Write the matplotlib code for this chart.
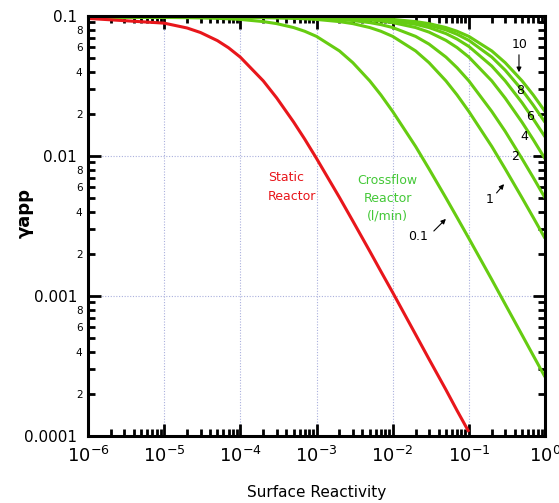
import matplotlib
matplotlib.use("Agg")
import matplotlib.pyplot as plt
from matplotlib.ticker import LogLocator, FixedLocator, FixedFormatter, NullFormatter

# valores (reactividad superficial vs gamma aparente)
x_vals = [1e-6, 1e-5, 2e-5, 3e-5, 5e-5, 7e-5, 1e-4, 2e-4, 3e-4, 5e-4, 7e-4,
          1e-3, 2e-3, 3e-3, 5e-3, 7e-3, 1e-2, 2e-2, 3e-2, 5e-2, 7e-2,
          0.1, 0.2, 0.3, 0.5, 0.7, 1.0]

# reactor estatico (termina en 0.1)
static_x = x_vals[:22]
static_y = [0.0961, 0.0889, 0.0821, 0.0762, 0.0667, 0.0593, 0.0508, 0.0344,
            0.0260, 0.0175, 0.0132, 0.00961, 0.00506, 0.00343, 0.00209,
            0.00150, 0.00106, 0.000531, 0.000354, 0.000214, 0.000152, 0.000107]

# reactor de flujo cruzado, por caudal (l/min)
flow_01 = [0.098, 0.0976, 0.0973, 0.0969, 0.0962, 0.0955, 0.0945, 0.0912,
           0.0882, 0.0827, 0.0778, 0.0715, 0.0563, 0.0464, 0.0344, 0.0273,
           0.0208, 0.0117, 0.00809, 0.00502, 0.00364, 0.00258, 0.00131,
           0.000874, 0.000526, 0.000376, 0.000264]
flow_1 = [0.098, 0.098, 0.098, 0.0979, 0.0978, 0.0977, 0.0976, 0.0973,
          0.0969, 0.0962, 0.0955, 0.0945, 0.0912, 0.0882, 0.0827, 0.0778,
          0.0715, 0.0563, 0.0464, 0.0344, 0.0273, 0.0208, 0.0117, 0.00809,
          0.00502, 0.00364, 0.00258]
flow_2 = [0.098, 0.098, 0.098, 0.098, 0.0979, 0.0979, 0.0978, 0.0976,
          0.0975, 0.0971, 0.0967, 0.0962, 0.0945, 0.0928, 0.0897, 0.0868,
          0.0827, 0.0715, 0.0630, 0.0509, 0.0427, 0.0344, 0.0208, 0.0150,
          0.00955, 0.00702, 0.00502]
flow_4 = [0.098, 0.098, 0.098, 0.098, 0.098, 0.098, 0.0979, 0.0978,
          0.0977, 0.0975, 0.0974, 0.0971, 0.0962, 0.0954, 0.0937, 0.0920,
          0.0897, 0.0827, 0.0767, 0.0670, 0.0595, 0.0509, 0.0344, 0.0259,
          0.0174, 0.0131, 0.00955]
flow_6 = [0.098, 0.098, 0.098, 0.098, 0.098, 0.098, 0.0979, 0.0979,
          0.0978, 0.0977, 0.0976, 0.0974, 0.0968, 0.0962, 0.0951, 0.0939,
          0.0923, 0.0872, 0.0827, 0.0749, 0.0684, 0.0606, 0.0439, 0.0344,
          0.0240, 0.0184, 0.0137]
flow_8 = [0.098, 0.098, 0.098, 0.098, 0.098, 0.098, 0.098, 0.0979,
          0.0979, 0.0978, 0.0977, 0.0975, 0.0971, 0.0967, 0.0958, 0.0949,
          0.0937, 0.0897, 0.0860, 0.0796, 0.0740, 0.0670, 0.0509, 0.0410,
          0.0296, 0.0231, 0.0174]
flow_10 = [0.098, 0.098, 0.098, 0.098, 0.098, 0.098, 0.098, 0.0979,
           0.0979, 0.0978, 0.0977, 0.0976, 0.0973, 0.0969, 0.0962, 0.0955,
           0.0945, 0.0912, 0.0882, 0.0827, 0.0778, 0.0715, 0.0563, 0.0464,
           0.0344, 0.0273, 0.0208]
flows = [flow_01, flow_1, flow_2, flow_4, flow_6, flow_8, flow_10]

red = "#e8161b"
green = "#66cc11"
green_txt = "#44c838"

fig = plt.figure(figsize=(5.59, 5.03), dpi=100)
ax = fig.add_axes([0.1574, 0.1332, 0.8176, 0.8350])

for yv in flows:
    ax.plot(x_vals, yv, color=green, lw=2.2, solid_capstyle="butt")
ax.plot(static_x, static_y, color=red, lw=2.2, solid_capstyle="butt")

ax.set_xscale("log")
ax.set_yscale("log")
ax.set_xlim(1e-6, 1.0)
ax.set_ylim(1e-4, 0.1)

# ticks
ax.xaxis.set_minor_locator(LogLocator(base=10, subs=range(2, 10), numticks=20))
ax.xaxis.set_minor_formatter(NullFormatter())
ax.set_xticks([1e-6, 1e-5, 1e-4, 1e-3, 1e-2, 1e-1, 1])
ax.set_xticklabels([r"$10^{-6}$", r"$10^{-5}$", r"$10^{-4}$", r"$10^{-3}$",
                    r"$10^{-2}$", r"$10^{-1}$", r"$10^{0}$"], fontsize=13)

ax.set_yticks([1e-4, 1e-3, 1e-2, 1e-1])
ax.set_yticklabels(["0.0001", "0.001", "0.01", "0.1"], fontsize=11)
minor_y = []
minor_lab = []
for dec in [1e-4, 1e-3, 1e-2]:
    for m in range(2, 10):
        minor_y.append(m * dec)
        minor_lab.append(str(m) if m % 2 == 0 else "")
ax.yaxis.set_minor_locator(FixedLocator(minor_y))
ax.yaxis.set_minor_formatter(FixedFormatter(minor_lab))

ax.tick_params(which="both", direction="in", top=True, right=True, width=2, color="black")
ax.tick_params(which="major", length=9)
ax.tick_params(which="minor", length=5)
ax.tick_params(axis="y", which="minor", labelsize=7.5, pad=4)
ax.tick_params(axis="y", which="major", pad=8)
ax.tick_params(axis="x", which="major", pad=7)

for s in ax.spines.values():
    s.set_linewidth(2.2)

ax.grid(True, which="major", linestyle=(0, (1, 1.5)), color="#aab0dd", lw=0.8)

ax.set_xlabel("Surface Reactivity", fontsize=11, labelpad=14)
ax.set_ylabel("γapp", fontsize=13, fontweight="bold")
ax.yaxis.set_label_coords(-0.118, 0.53)

# textos
ax.text(2.3e-4, 0.0060, "Static\nReactor", color=red, fontsize=9, ha="left",
        va="center", linespacing=1.55)
ax.text(8.6e-3, 0.0050, "Crossflow\nReactor\n(l/min)", color=green_txt,
        fontsize=9, ha="center", va="center", linespacing=1.5)

arrow = dict(arrowstyle="-|>", color="black", lw=0.8, mutation_scale=7)
ax.text(0.467, 0.0621, "10", fontsize=9, ha="center", va="center")
ax.annotate("", xy=(0.455, 0.0379), xytext=(0.455, 0.0553), arrowprops=arrow)
ax.text(0.467, 0.0296, "8", fontsize=9, ha="center", va="center")
ax.text(0.63, 0.0190, "6", fontsize=9, ha="center", va="center")
ax.text(0.527, 0.0137, "4", fontsize=9, ha="center", va="center")
ax.text(0.40, 0.00984, "2", fontsize=9, ha="center", va="center")
ax.text(0.189, 0.00485, "1", fontsize=9, ha="center", va="center")
ax.annotate("", xy=(0.306, 0.00652), xytext=(0.219, 0.00526), arrowprops=arrow)
ax.text(0.0214, 0.00264, "0.1", fontsize=9, ha="center", va="center")
ax.annotate("", xy=(0.053, 0.00367), xytext=(0.0327, 0.00282), arrowprops=arrow)

fig.savefig("out.png", dpi=100)
